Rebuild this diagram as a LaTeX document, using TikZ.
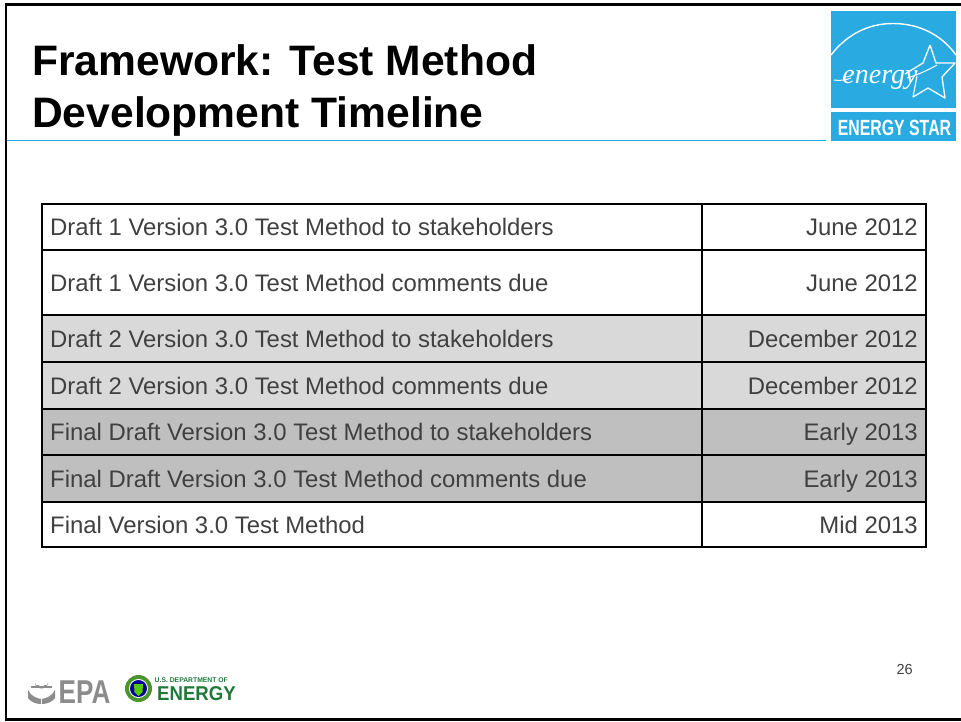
\documentclass[tikz,border=0pt]{standalone}
\usepackage{fontspec}
\setmainfont{Liberation Sans}
\newfontfamily\logoserif{Liberation Serif}
\definecolor{esblue}{HTML}{29ABE2}
\definecolor{txt}{HTML}{404040}
\definecolor{rowa}{HTML}{D9D9D9}
\definecolor{rowb}{HTML}{BFBFBF}
\definecolor{doegreen}{HTML}{1F7A3A}
\definecolor{epagray}{HTML}{8C8C8C}
\tikzset{
  cell/.style={font=\fontsize{23.9}{28}\selectfont, text=txt, inner sep=0pt, anchor=base west},
  datecell/.style={font=\fontsize{23.9}{28}\selectfont, text=txt, inner sep=0pt, anchor=base east},
  grid/.style={draw=black, line width=2pt},
  titletext/.style={font=\fontsize{42.6}{46}\selectfont\bfseries, text=black, inner sep=0pt, anchor=base west},
}
\begin{document}
\begin{tikzpicture}[x=1pt,y=-1pt]
\useasboundingbox (0,0) rectangle (961,721);
\fill[white] (0,0) rectangle (961,721);
% frame
\draw[black, line width=2.6pt] (961,4.3) -- (5.8,4.3) -- (5.8,719.3) -- (961,719.3);
% title
\node[titletext] (t1) at (32,75) {Framework: Test Method};
\node[titletext] (t2) at (32,127) {Development Timeline};
\draw[esblue, line width=1.2pt] (7,140.5) -- (826,140.5);
% table fills
\fill[rowa] (42,315) rectangle (926,408.5);
\fill[rowb] (42,408.5) rectangle (926,501.5);
% table lines
\foreach \yy in {204,250,315,362,408.5,455,501.5,547}{
  \draw[grid] (42,\yy) -- (926,\yy);
}
\draw[grid] (42,203) -- (42,548);
\draw[grid] (702,203) -- (702,548);
\draw[grid] (926,203) -- (926,548);
% texts
\node[cell] (a1) at (50,235) {Draft 1 Version 3.0 Test Method to stakeholders};
\node[cell] (a2) at (50,291) {Draft 1 Version 3.0 Test Method comments due};
\node[cell] (a3) at (50,347) {Draft 2 Version 3.0 Test Method to stakeholders};
\node[cell] (a4) at (50,394) {Draft 2 Version 3.0 Test Method comments due};
\node[cell] (a5) at (50,440) {Final Draft Version 3.0 Test Method to stakeholders};
\node[cell] (a6) at (50,487) {Final Draft Version 3.0 Test Method comments due};
\node[cell] (a7) at (50,533) {Final Version 3.0 Test Method};
\node[datecell] (b1) at (918,235) {June 2012};
\node[datecell] (b2) at (918,291) {June 2012};
\node[datecell] (b3) at (918,347) {December 2012};
\node[datecell] (b4) at (918,394) {December 2012};
\node[datecell] (b5) at (918,440) {Early 2013};
\node[datecell] (b6) at (918,487) {Early 2013};
\node[datecell] (b7) at (918,533) {Mid 2013};
\node[font=\fontsize{14.5}{16}\selectfont, text=txt, inner sep=0pt, anchor=base east] (pg) at (913,674) {26};
% ENERGY STAR logo
\fill[esblue] (831,11) rectangle (956,108);
\fill[esblue] (831,112) rectangle (956,141);
\draw[white, line width=1.4pt] (831,55) .. controls (848,33) and (870,23.5) .. (893,23.5) .. controls (918,23.5) and (941,34) .. (956,55);
\draw[white, line width=1.3pt, line join=round] (930,45) -- (936,63) -- (955,63) -- (942,77) -- (945,98) -- (928,88) -- (913,97);
\draw[white, line width=1.3pt] (930,45) -- (923,63) -- (905,74);
\draw[white, line width=1.1pt] (917,76) -- (913,97);
\draw[white, line width=1pt] (907,78) .. controls (920,74) and (928,70) .. (937,65);
\node[font=\fontsize{28}{30}\selectfont\logoserif\itshape, text=white, inner sep=0pt, anchor=base] (es) at (880,83) {energy};
\draw[white, line width=1pt] (834,80) .. controls (840,81) and (846,80) .. (851,78);
\node[font=\fontsize{22}{24}\selectfont\bfseries, text=white, inner sep=0pt, anchor=base, xscale=.72] (esn) at (894.5,135) {ENERGY STAR};
% EPA logo
\node[font=\fontsize{33}{35}\selectfont\bfseries, text=epagray, inner sep=0pt, anchor=base west, xscale=.79] (epa) at (58.5,703) {EPA};
\fill[epagray] (35,685) -- (35,682) arc (180:0:6.5) -- (48,685) -- cycle;
\fill[white] (38,685) -- (38,683) arc (180:0:3.5) -- (45,685) -- cycle;
\draw[epagray, line width=2.4pt] (31,687) -- (52,687);
\fill[epagray] (28,690) .. controls (31,696) and (36,698) .. (41,699) -- (41,704) .. controls (36,704) and (31,702) .. (28,698) -- cycle;
\fill[epagray] (55,690) .. controls (52,696) and (47,698) .. (42,699) -- (42,704) .. controls (47,704) and (52,702) .. (55,698) -- cycle;
% DOE logo
\fill[doegreen!80!yellow] (138.5,688.5) circle (13.5);
\fill[white] (138.5,688.5) circle (9.5);
\fill[blue!60!black] (138.5,688.5) circle (8.5);
\fill[green!60!yellow!80!black] (134,684) -- (143,684) -- (142.5,692) -- (138.5,696) -- (134.5,692) -- cycle;
\node[font=\fontsize{6.8}{9}\selectfont\bfseries, text=doegreen, inner sep=0pt, anchor=base west] (doe1) at (154.5,682.5) {U.S. DEPARTMENT OF};
\node[font=\fontsize{20}{22}\selectfont\bfseries, text=doegreen, inner sep=0pt, anchor=base west, xscale=.93] (doe2) at (157,700) {ENERGY};
\end{tikzpicture}
\end{document}
